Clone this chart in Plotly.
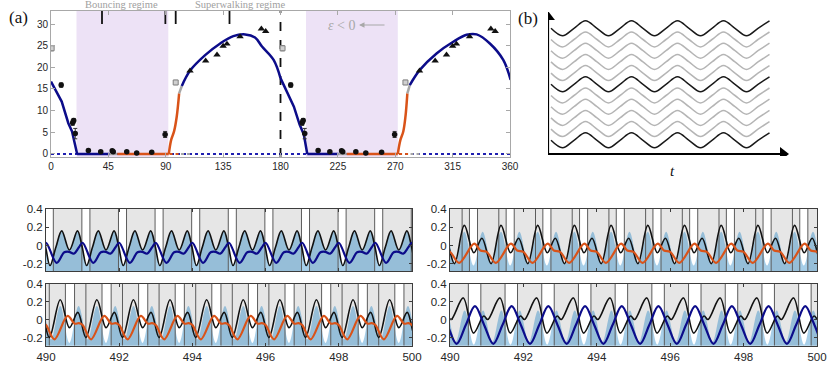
import plotly.graph_objects as go

W, H = 831, 382


def px(x):
    return x / W


def py(y):
    return 1 - y / H


NAVY = "#0c0c8a"
ORANGE = "#d95319"
GREY = "#a6a6a6"
PURPLE = "#ede2f6"
BAND = "#e6e6e6"
EDGE = "#5c5c5c"
FILL = "rgba(0,114,189,0.35)"
SANS = "Liberation Sans, Arial"
SERIF = "Liberation Serif, Times New Roman"

# ---------------- panel (a) ----------------
a_xticks = [0, 45, 90, 135, 180, 225, 270, 315, 360]
a_yticks = [0, 5, 10, 15, 20, 25, 30]
bounce_from = [20, 200]
bounce_to = [92, 272]

fall_x = [[0, 8.4, 13.6, 16.5, 20.5], [180, 190.5, 195, 198.3, 201]]
fall_y = [[16.7, 12.1, 7.1, 5.2, 0], [17.5, 10.9, 6.8, 4.5, 0]]
flat_navy_x = [[20.5, 46], [201, 225.5]]
flat_grey_x = [[46, 52], [225.5, 232]]
flat_orange_x = [[52, 92.4], [232, 272]]
rise_x = [[92.4, 94.2, 96.5, 98.6, 100.5], [272, 274, 276.3, 278, 279.5]]
rise_y = [[0, 3.2, 5.2, 8.6, 14], [0, 3.2, 5.2, 8.6, 14]]
link_x = [[100.5, 102.6], [279.5, 281.4]]
link_y = [[14, 15.7], [14, 15.9]]
arc_x = [[102.6, 109, 120.9, 132.7, 143, 152.3, 160, 165.5, 174.6, 180],
         [281.4, 289.3, 302.4, 315.5, 326, 333.8, 344.2, 354.7, 360.5]]
arc_y = [[15.7, 19.2, 22.8, 25.5, 27.2, 27.6, 26.9, 24.8, 21.7, 17.5],
         [15.9, 19.4, 23.2, 25.9, 27.5, 27.6, 25.5, 21.7, 17.1]]
dot_orange_x = [[93, 102], [273, 282]]
dot_grey_x = [[102, 110], [282, 290]]

circ_x = [8, 17, 17.8, 19, 29.3, 39, 48, 48.8, 59.4, 67.2, 79, 89.5,
          188, 197, 197.8, 199, 209.5, 218.7, 227.9, 228.8, 239.1, 246.9, 259.3, 269.5]
circ_y = [15.9, 7.2, 7.7, 4.7, 0.8, 0.5, 0.75, 0.5, 0.5, 0.2, 0.4, 4.5,
          15.9, 7.2, 7.7, 4.7, 0.8, 0.5, 0.75, 0.5, 0.5, 0.2, 0.4, 4.5]
circ_err = [0.5, 0.6, 0.5, 1.2, 0.3, 0.2, 0.3, 0.2, 0.2, 0.2, 0.2, 0.7,
            0.5, 0.6, 0.5, 1.2, 0.3, 0.2, 0.3, 0.2, 0.2, 0.2, 0.2, 0.7]
tri_x = [109, 121.3, 130.2, 135, 138, 148.3, 165, 168.4,
         289, 301.3, 310.2, 315, 318, 328.3, 345, 348.4]
tri_y = [19.2, 21.5, 22.9, 24.9, 25.4, 27.1, 28.9, 28.3,
         19.2, 21.5, 22.9, 24.9, 25.4, 27.1, 28.9, 28.3]
sq_x = [0.5, 97.8, 181.6, 278]
sq_y = [24.4, 16.5, 24.4, 16.5]
sq_err = [0.6, 0.5, 0.6, 0.5]
regime_ticks = [40, 89.7, 97.8, 140]

# ---------------- bottom panels (one period each, t - 490 mod 1) ----------------
periods = list(range(-1, 11))
t_ticks = [490, 492, 494, 496, 498, 500]
v_ticks = [-0.2, 0, 0.2, 0.4]
v_text = ["-0.2", "0", "0.2", "0.4"]

tl_black_t = [0.11, 0.27, 0.43, 0.64, 0.86, 0.98]
tl_black_v = [-0.22, -0.02, 0.16, -0.05, 0.16, 0.0]
tl_col_t = [0.0, 0.29, 0.5, 0.63, 0.76, 0.9]
tl_col_v = [0.03, -0.19, -0.075, -0.07, -0.09, -0.02]
tl_gap = [-0.02, 0.2]
tl_lines = [-0.02, 0.2]

tr_black_t = [0.12, 0.39, 0.65, 0.87]
tr_black_v = [-0.2, 0.22, -0.08, 0.08]
tr_col_t = [0.25, 0.66, 0.83, 1.0]
tr_col_v = [-0.19, 0.02, -0.055, -0.07]
tr_fill_t = [0.14, 0.39, 0.64, 0.89]
tr_fill_v = [-0.2, 0.15, -0.22, 0.15]
tr_gap = [0.53, 0.75]
tr_lines = [0.33, 0.53, 0.75]

bl_black_t = [0.09, 0.39, 0.64, 0.87]
bl_black_v = [-0.2, 0.22, -0.09, 0.08]
bl_col_t = [0.23, 0.59, 0.78, 0.9, 1.0]
bl_col_v = [-0.22, 0.04, -0.045, -0.04, -0.06]
bl_fill_t = [0.14, 0.39, 0.64, 0.89]
bl_fill_v = [-0.22, 0.15, -0.26, 0.15]
bl_gap = [0.53, 0.78]
bl_lines = [0.09, 0.53, 0.78]

br_black_t = [0.36, 0.64, 0.92, 1.03]
br_black_v = [0.24, -0.15, 0.04, 0.0]
br_col_t = [0.18, 0.43, 0.68, 0.93]
br_col_v = [-0.27, -0.06, 0.15, -0.06]
br_fill_t = [0.15, 0.4, 0.65, 0.9]
br_fill_v = [-0.25, 0.1, -0.28, 0.1]
br_gap = [0.5, 0.84]
br_lines = [0.5, 0.84]

# ---------------- panel (b) schematic ----------------
b_levels = [127.7, 116.5, 105.3, 94.1, 82.9, 71.7, 60.5, 49.3, 38.1, 26.9, 15.7]
b_dark = [1, 0, 0, 0, 0, 1, 0, 0, 0, 0, 1]
wave_phase = [0, 0.25, 0.5, 0.75]
wave_shape = [0, -1, 0, 1]
wave_start, wave_period, wave_end, wave_amp = 3, 46, 227, 7.5

fig = go.Figure()
shapes = []
ann = []


def seg(x, y, color, width=2.5, dash=None, shape="linear", xa="x", ya="y"):
    fig.add_trace(go.Scatter(x=x, y=y, mode="lines", xaxis=xa, yaxis=ya,
                             line=dict(color=color, width=width, dash=dash, shape=shape),
                             hoverinfo="skip", showlegend=False))


# --- (a) ---
for a, b in zip(bounce_from, bounce_to):
    shapes.append(dict(type="rect", xref="x", yref="y", x0=a, x1=b, y0=-0.7, y1=33,
                       fillcolor=PURPLE, line_width=0, layer="below"))
seg([0, 360], [0, 0], "#1f1fb0", 2, "dot")
for xs in dot_orange_x:
    seg(xs, [0, 0], ORANGE, 2, "dot")
for xs in dot_grey_x:
    seg(xs, [0, 0], GREY, 2, "dot")
seg([180, 180], [-0.7, 33], "#111111", 1.8, "dash")
for x in regime_ticks:
    seg([x, x], [30, 33], "#111111", 1.8)
for i in range(2):
    seg(fall_x[i], fall_y[i], NAVY)
    seg(flat_navy_x[i], [0, 0], NAVY)
    seg(flat_grey_x[i], [0, 0], GREY)
    seg(flat_orange_x[i], [0, 0], ORANGE)
    seg(rise_x[i], rise_y[i], ORANGE, shape="spline")
    seg(link_x[i], link_y[i], GREY)
    seg(arc_x[i], arc_y[i], NAVY, shape="spline")

fig.add_trace(go.Scatter(x=circ_x, y=circ_y, mode="markers", xaxis="x", yaxis="y",
                         marker=dict(color="#111111", size=5.5),
                         error_y=dict(type="data", array=circ_err, color="#333333",
                                      thickness=1, width=2),
                         hoverinfo="skip", showlegend=False))
fig.add_trace(go.Scatter(x=tri_x, y=tri_y, mode="markers", xaxis="x", yaxis="y",
                         marker=dict(color="#111111", size=6.5, symbol="triangle-up"),
                         hoverinfo="skip", showlegend=False))
fig.add_trace(go.Scatter(x=sq_x, y=sq_y, mode="markers", xaxis="x", yaxis="y",
                         marker=dict(color="#d0d0d0", size=5, symbol="square",
                                     line=dict(color="#808080", width=1)),
                         error_y=dict(type="data", array=sq_err, color="#808080",
                                      thickness=1, width=2),
                         hoverinfo="skip", showlegend=False))


# --- bottom panels ---
def tile(tk, vk):
    ts, vs = [], []
    for k in periods:
        for t, v in zip(tk, vk):
            ts.append(490 + k + t)
            vs.append(v)
    return ts, vs


def panel(n, black, col, fill, gap, lines, color, ymin):
    xa, ya = f"x{n}", f"y{n}"
    for k in periods:
        x0 = max(490, 490 + k + gap[1])
        x1 = min(500, 490 + k + 1 + gap[0])
        if x1 > x0:
            shapes.append(dict(type="rect", xref=xa, yref=ya, x0=x0, x1=x1,
                               y0=ymin, y1=0.4, fillcolor=BAND, line_width=0, layer="below"))
    ft, fv = tile(*fill)
    fig.add_trace(go.Scatter(x=[485, 505], y=[ymin - 0.1, ymin - 0.1], mode="lines",
                             xaxis=xa, yaxis=ya, line=dict(width=0),
                             hoverinfo="skip", showlegend=False))
    fig.add_trace(go.Scatter(x=ft, y=fv, mode="lines", xaxis=xa, yaxis=ya, fill="tonexty",
                             fillcolor=FILL, line=dict(width=0, shape="spline"),
                             hoverinfo="skip", showlegend=False))
    lx, ly = [], []
    for k in periods:
        for t in lines:
            if 490 < 490 + k + t < 500:
                lx += [490 + k + t, 490 + k + t, None]
                ly += [ymin, 0.4, None]
    seg(lx, ly, EDGE, 1, xa=xa, ya=ya)
    bt, bv = tile(*black)
    seg(bt, bv, "#111111", 1.6, shape="spline", xa=xa, ya=ya)
    ct, cv = tile(*col)
    seg(ct, cv, color, 2.2, shape="spline", xa=xa, ya=ya)


panel(2, (tl_black_t, tl_black_v), (tl_col_t, tl_col_v), (tl_black_t, tl_black_v),
      tl_gap, tl_lines, NAVY, -0.28)
panel(3, (tr_black_t, tr_black_v), (tr_col_t, tr_col_v), (tr_fill_t, tr_fill_v),
      tr_gap, tr_lines, ORANGE, -0.28)
panel(4, (bl_black_t, bl_black_v), (bl_col_t, bl_col_v), (bl_fill_t, bl_fill_v),
      bl_gap, bl_lines, ORANGE, -0.29)
panel(5, (br_black_t, br_black_v), (br_col_t, br_col_v), (br_fill_t, br_fill_v),
      br_gap, br_lines, NAVY, -0.29)

# --- (b) ---
for lev, dark in zip(b_levels, b_dark):
    wx, wy = [], []
    c = 0
    while wave_start + c * wave_period <= wave_end:
        for ph, sh in zip(wave_phase, wave_shape):
            xk = wave_start + (c + ph) * wave_period
            if xk <= wave_end:
                wx.append(xk)
                wy.append(lev + wave_amp * sh)
        c += 1
    seg(wx, wy, "#1a1a1a" if dark else "#b5b5b5", 1.5, shape="spline", xa="x6", ya="y6")
seg([0, 0], [2, 138], "#000000", 2.2, xa="x6", ya="y6")
seg([0, 232], [2, 2], "#000000", 2.2, xa="x6", ya="y6")
fig.add_trace(go.Scatter(x=[0], y=[139], mode="markers", xaxis="x6", yaxis="y6",
                         marker=dict(symbol="triangle-up", size=12, color="#000000"),
                         hoverinfo="skip", showlegend=False))
fig.add_trace(go.Scatter(x=[235], y=[2], mode="markers", xaxis="x6", yaxis="y6",
                         marker=dict(symbol="triangle-right", size=12, color="#000000"),
                         hoverinfo="skip", showlegend=False))


# --- text ---
def text(x, y, s, size, color="#111111", family=SERIF, xanchor="center"):
    ann.append(dict(x=px(x), y=py(y), xref="paper", yref="paper", text=s, showarrow=False,
                    font=dict(size=size, color=color, family=family),
                    xanchor=xanchor, yanchor="middle"))


text(18, 17, "(a)", 17)
text(528, 19, "(b)", 17)
text(672, 171, "<i>t</i>", 15)
text(122, 5, "Bouncing regime", 10.5, "#a0a0a0")
text(240, 5, "Superwalking regime", 10.5, "#a0a0a0")
text(341, 25, "<i>ε</i> &lt; 0", 14, "#a8a8a8")
ann.append(dict(x=px(359), y=py(25), xref="paper", yref="paper",
                axref="pixel", ayref="pixel", ax=27, ay=0, text="", showarrow=True,
                arrowhead=2, arrowsize=1, arrowwidth=1.1, arrowcolor="#a8a8a8"))

axis_common = dict(showgrid=False, zeroline=False, ticks="inside", mirror="ticks",
                   showline=True, automargin=False)
layout_axes = dict(
    xaxis=dict(axis_common, domain=[px(51), px(510)], range=[0, 360], tickvals=a_xticks,
               anchor="y", linecolor="#a8a8a8", ticklen=4, tickcolor="#a8a8a8",
               tickfont=dict(family=SANS, color="#262626", size=10)),
    yaxis=dict(axis_common, domain=[py(157), py(11)], range=[-0.7, 33], tickvals=a_yticks,
               anchor="x", linecolor="#a8a8a8", ticklen=4, tickcolor="#a8a8a8",
               tickfont=dict(family=SANS, color="#262626", size=10)),
    xaxis6=dict(domain=[px(548), px(790)], range=[0, 242], visible=False, anchor="y6",
                automargin=False),
    yaxis6=dict(domain=[py(156), py(12)], range=[0, 144], visible=False, anchor="x6",
                automargin=False),
)
cols = {2: (46, 412), 3: (450, 817), 4: (46, 412), 5: (450, 817)}
rows = {2: (271, 209, -0.28), 3: (271, 209, -0.28),
        4: (345.7, 283.5, -0.29), 5: (345.7, 283.5, -0.29)}
for n in (2, 3, 4, 5):
    c0, c1 = cols[n]
    r0, r1, ymin = rows[n]
    layout_axes[f"xaxis{n}"] = dict(axis_common, domain=[px(c0), px(c1)], range=[490, 500],
                                    tickvals=t_ticks, showticklabels=n in (4, 5),
                                    anchor=f"y{n}", linecolor="#3c3c3c", ticklen=3,
                                    tickcolor="#3c3c3c",
                                    tickfont=dict(family=SANS, color="#262626", size=11.5))
    layout_axes[f"yaxis{n}"] = dict(axis_common, domain=[py(r0), py(r1)], range=[ymin, 0.4],
                                    tickvals=v_ticks, ticktext=v_text, anchor=f"x{n}",
                                    linecolor="#3c3c3c", ticklen=3, tickcolor="#3c3c3c",
                                    tickfont=dict(family=SANS, color="#262626", size=11.5))

fig.update_layout(width=W, height=H, margin=dict(l=0, r=0, t=0, b=0, autoexpand=False),
                  paper_bgcolor="white", plot_bgcolor="white", showlegend=False,
                  hovermode=False, shapes=shapes, annotations=ann, **layout_axes)

# page body keeps its default 8px margin otherwise, which shifts the figure
fig.write_html("out.html", config={"displayModeBar": False},
               post_script="document.body.style.margin = '0';")
